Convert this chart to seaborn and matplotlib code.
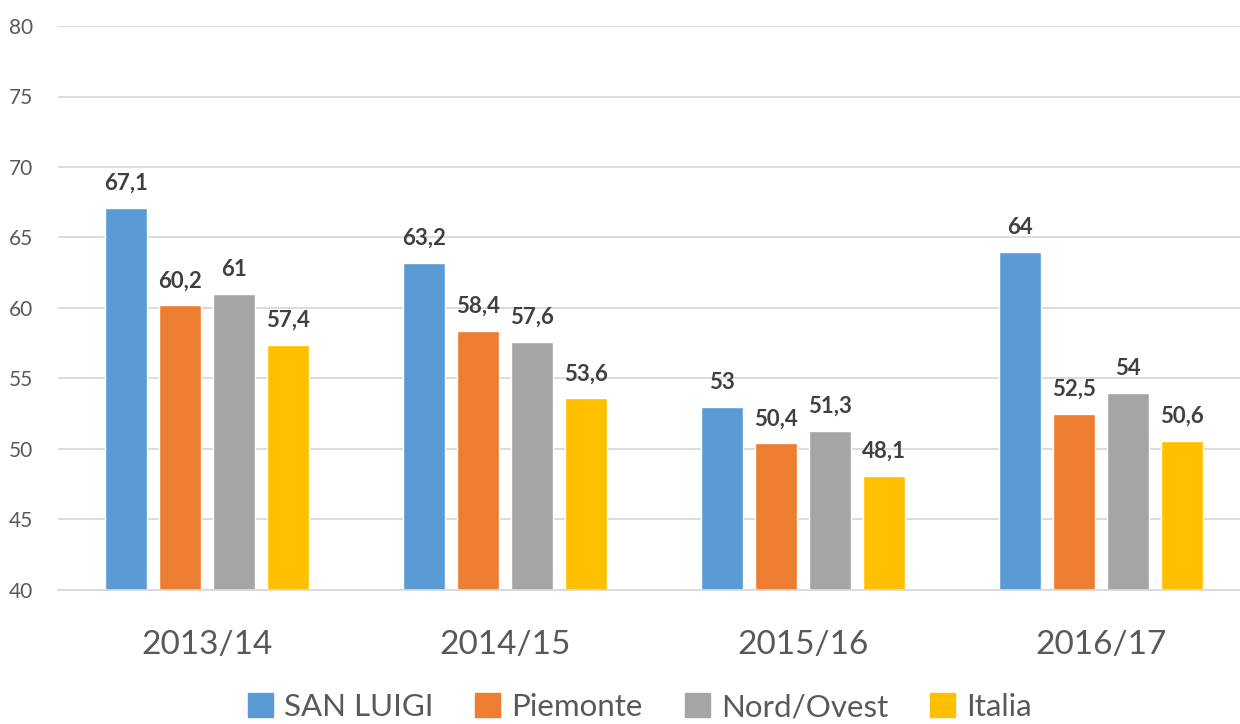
import numpy             as np
import pandas            as pd
import seaborn           as sns
import matplotlib.pyplot as plt

# ============================================================ DATA ============================================================

years      = ["2013/14", "2014/15", "2015/16", "2016/17"]
series     = ["SAN LUIGI", "Piemonte", "Nord/Ovest", "Italia"]
san_luigi  = [67.1, 63.2, 53.0, 64.0]
piemonte   = [60.2, 58.4, 50.4, 52.5]
nord_ovest = [61.0, 57.6, 51.3, 54.0]
italia     = [57.4, 53.6, 48.1, 50.6]
colors     = ["#5B9BD5", "#ED7D31", "#A5A5A5", "#FFC000"]

values = [san_luigi, piemonte, nord_ovest, italia]
df = pd.DataFrame({
    "Anno"   : [y for _ in series for y in years],
    "Serie"  : [s for s in series for _ in years],
    "Valore" : [v for vals in values for v in vals],
})

# ============================================================ PLOT ============================================================

sns.set_theme(style="white")
plt.rcParams['font.family'] = ['Lato', 'DejaVu Sans']

fig = plt.figure(figsize=(12.4, 7.24), dpi=100)
ax = fig.add_axes([58 / 1240, 1 - 590 / 724, 1182 / 1240, 564 / 724])

sns.barplot(data=df, x="Anno", y="Valore", hue="Serie", order=years, hue_order=series,
            palette=colors, width=0.725, gap=0.222, saturation=1, ax=ax, legend=False)

fmt = lambda v: f"{v:g}".replace(".", ",")
for container in ax.containers:
    ax.bar_label(container, labels=[fmt(v) for v in container.datavalues], padding=10,
                 fontsize=16, fontweight="bold", color="#404040")

ax.set_ylim(40, 80)
ax.set_yticks(np.arange(40, 81, 5))
ax.set_xlim(-0.5, -0.5 + 1182 / 298)
ax.yaxis.grid(True, color="#D9D9D9", linewidth=1.3)
ax.set_axisbelow(True)
for side in ["top", "right", "left"]:
    ax.spines[side].set_visible(False)
ax.spines["bottom"].set_color("#D9D9D9")
ax.spines["bottom"].set_linewidth(1.3)

ax.tick_params(axis="y", labelsize=15, colors="#595959", length=0, pad=18)
ax.tick_params(axis="x", labelsize=24, colors="#595959", length=0, pad=29)
ax.set_xlabel("")
ax.set_ylabel("")

handles = [plt.Rectangle((0, 0), 1, 1, color=c) for c in colors]
fig.legend(handles, series, loc="center", bbox_to_anchor=(0.516, 1 - 707 / 724), ncol=4,
           frameon=False, fontsize=22.5, labelcolor="#595959", handlelength=0.8, handleheight=0.8,
           handletextpad=0.35, columnspacing=1.35)

plt.savefig("out.png", dpi=100)
